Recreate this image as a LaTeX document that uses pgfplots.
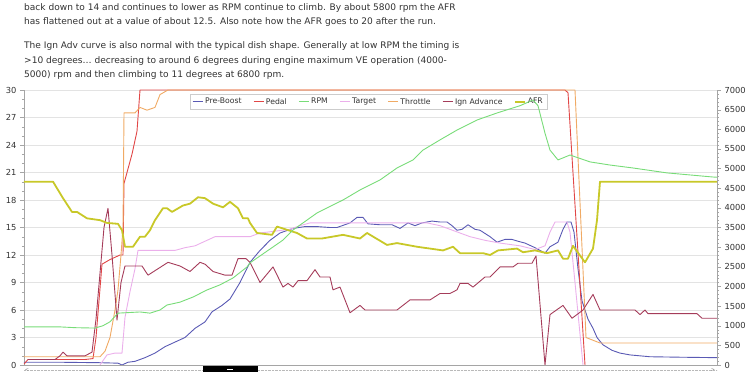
\documentclass[border=0pt]{standalone}
\usepackage{pgfplots}
\pgfplotsset{compat=1.18}
\usepackage{fontspec}
\setmainfont{DejaVu Sans}
\definecolor{cpre}{RGB}{90,90,180}
\definecolor{cpedal}{RGB}{225,70,70}
\definecolor{crpm}{RGB}{120,220,120}
\definecolor{ctarget}{RGB}{235,175,235}
\definecolor{cthr}{RGB}{240,170,100}
\definecolor{cign}{RGB}{165,60,90}
\definecolor{cafr}{RGB}{200,200,40}
\definecolor{ctext}{RGB}{50,50,50}
\definecolor{caxis}{RGB}{165,165,165}
\pgfplotsset{legend image code/.code={\draw[#1] (0pt,0pt) -- (10pt,0pt);}}
\begin{document}
\begin{tikzpicture}[x=1pt,y=1pt]
\path[use as bounding box] (0,0) rectangle (750,375);
\begin{scope}[every node/.style={anchor=west,inner sep=0pt,text=ctext,font=\fontsize{9.05}{10}\selectfont}]
\node at (24,367) {back down to 14 and continues to lower as RPM continue to climb. By about 5800 rpm the AFR};
\node at (24,353) {has flattened out at a value of about 12.5. Also note how the AFR goes to 20 after the run.};
\node at (24,329) {The Ign Adv curve is also normal with the typical dish shape. Generally at low RPM the timing is};
\node at (24,314) {>10 degrees… decreasing to around 6 degrees during engine maximum VE operation (4000-};
\node at (24,300) {5000) rpm and then climbing to 11 degrees at 6800 rpm.};
\end{scope}
% scrollbar strip
\draw[gray!55, densely dotted] (24,5) -- (717,5);
\fill[black] (203,2.5) rectangle (258,8.5);
\draw[white, line width=0.6pt] (227,5.5) -- (233,5.5);
\node[text=gray, font=\fontsize{5}{5}\selectfont] at (27,5) {<};
\node[text=gray, font=\fontsize{5}{5}\selectfont] at (713,5) {>};
\begin{axis}[
  at={(24pt,10pt)}, anchor=south west, scale only axis,
  width=693pt, height=275pt,
  xmin=24, xmax=717, ymin=0, ymax=30,
  axis x line*=bottom, axis y line*=left,
  axis line style={caxis, -},
  xtick=\empty,
  ytick={0,3,...,30}, minor y tick num=2,
  tick align=outside, major tick length=4pt, minor tick length=2pt,
  tick style={caxis},
  ymajorgrids, major grid style={gray!22},
  /pgf/number format/assume math mode=true,
  yticklabel style={font=\fontsize{8.3}{9}\selectfont, text=ctext},
  every axis plot/.append style={line width=0.9pt, line join=round, forget plot},
  legend columns=-1,
  legend style={at={(0.2395,0.9855)}, anchor=north west, draw=gray!40, fill=white,
    font=\fontsize{7.7}{8}\selectfont, inner sep=2pt,
    /tikz/every even column/.append style={column sep=9.5pt}},
]
\addlegendimage{draw=cpre, line width=0.9pt}
\addlegendentry{\textcolor{ctext}{Pre-Boost}}
\addlegendimage{draw=cpedal, line width=0.9pt}
\addlegendentry{\textcolor{ctext}{Pedal}}
\addlegendimage{draw=crpm, line width=0.9pt}
\addlegendentry{\textcolor{ctext}{RPM}}
\addlegendimage{draw=ctarget, line width=0.9pt}
\addlegendentry{\textcolor{ctext}{Target}}
\addlegendimage{draw=cthr, line width=0.9pt}
\addlegendentry{\textcolor{ctext}{Throttle}}
\addlegendimage{draw=cign, line width=0.9pt}
\addlegendentry{\textcolor{ctext}{Ign Advance}}
\addlegendimage{draw=cafr, line width=1.6pt}
\addlegendentry{\textcolor{ctext}{AFR}}
\addplot[cpre] coordinates {
(24,0.3) (60,0.3) (100,0.25) (118,0.2) (122,0.0) (128,0.3) (135,0.4) (145,0.8) (155,1.3) (165,2.0) (175,2.5) (185,3.0) (195,4.0) (205,4.7) (212,5.8) (222,6.5) (230,7.2) (240,9.0) (250,11.2) (260,12.5) (270,13.6) (280,14.4) (293,14.9) (305,15.1) (317,15.1) (330,15.0) (337,15.0) (350,15.5) (357,16.1) (363,16.1) (368,15.4) (380,15.3) (392,15.3) (400,14.9) (408,15.5) (415,15.2) (422,15.5) (432,15.7) (440,15.6) (447,15.6) (452,15.2) (457,14.7) (462,14.8) (468,15.3) (475,14.8) (480,14.7) (490,14.0) (497,13.4) (505,13.7) (512,13.7) (518,13.5) (525,13.3) (535,12.8) (545,12.2) (550,12.9) (558,13.4) (563,14.8) (567,15.6) (571,15.6) (574,14.5) (578,10.5) (582,7.0) (588,5.0) (593,4.0) (597,3.0) (603,2.2) (612,1.6) (620,1.3) (630,1.1) (650,0.9) (680,0.85) (717,0.8)
};
\addplot[cpedal] coordinates {
(24,0.1) (28,0.6) (85,0.6) (93,0.7) (96,3) (102,11.0) (110,11.5) (120,12.0) (123,12.0) (124,19.8) (132,23.0) (137,25.5) (140,30) (565,30) (568,29.7) (585,0)
};
\addplot[ctarget] coordinates {
(100,0.0) (107,1.1) (115,1.3) (122,1.3) (125,5.2) (130,8) (135,10.5) (138,12.5) (175,12.5) (185,12.8) (195,13.0) (205,13.5) (215,14.0) (250,14.0) (260,14.4) (290,14.8) (300,15.2) (310,15.5) (427,15.5) (440,15.2) (455,14.6) (470,14.0) (485,13.6) (500,13.3) (520,13.0) (535,12.6) (545,13.0) (550,14.5) (555,15.6) (567,15.6) (570,14.5) (575,9) (583,0)
};
\addplot[cthr] coordinates {
(24,0.9) (100,0.9) (105,1.5) (110,3.0) (115,6.0) (118,8.2) (121,12) (123,15) (124,27.5) (135,27.5) (140,28.1) (147,27.8) (155,28.1) (160,29.5) (168,30) (575,30) (586,3.0) (600,2.4) (717,2.4)
};
\addplot[cign] coordinates {
(28,0.6) (55,0.6) (60,1.0) (63,1.4) (67,1.0) (85,1.0) (92,1.4) (96,5) (104,15) (108,17.1) (112,12) (117,4.9) (121,9.0) (125,10.8) (142,10.8) (148,9.8) (168,11.2) (180,10.8) (190,10.2) (200,11.2) (205,11.0) (213,10.2) (225,9.8) (232,9.8) (238,11.6) (246,11.6) (250,11.2) (260,9.0) (273,10.7) (283,8.5) (288,8.9) (293,8.5) (298,9.2) (307,9.2) (315,10.4) (320,9.6) (330,9.6) (333,8.2) (340,8.5) (350,5.7) (360,6.5) (365,6.0) (397,6.0) (410,7.1) (430,7.1) (440,7.8) (450,7.8) (457,8.2) (460,8.9) (468,8.9) (473,8.5) (485,9.6) (490,9.6) (500,10.7) (513,10.7) (518,11.1) (532,11.1) (536,11.9) (545,0) (550,5.5) (563,6.5) (572,5.1) (583,6.0) (593,7.7) (600,6.0) (635,6.0) (640,5.5) (645,6.0) (648,5.6) (697,5.6) (702,5.1) (717,5.1)
};
\addplot[cafr, line width=1.8pt] coordinates {
(24,20.0) (53,20.0) (63,18.2) (72,16.7) (77,16.7) (87,16.0) (100,15.8) (107,15.5) (118,15.4) (122,14.7) (125,12.9) (133,12.9) (140,14.0) (145,14.0) (150,14.7) (155,15.8) (163,17.1) (167,17.1) (172,16.7) (183,17.4) (190,17.6) (198,18.3) (205,18.2) (213,17.6) (223,17.2) (230,17.8) (238,17.1) (243,16.0) (248,16.0) (250,15.5) (257,14.4) (272,14.2) (277,15.1) (297,14.4) (307,13.8) (322,13.8) (343,14.2) (360,13.8) (367,14.4) (387,13.1) (397,13.3) (417,12.9) (443,12.5) (453,12.9) (460,12.2) (483,12.2) (490,12.0) (498,12.5) (517,12.7) (523,12.3) (535,12.5) (547,12.2) (558,12.5) (563,11.6) (568,11.6) (573,13.0) (585,11.2) (593,12.7) (597,15.8) (600,20.0) (717,20.0)
};
\end{axis}
\begin{axis}[
  at={(24pt,10pt)}, anchor=south west, scale only axis,
  width=693pt, height=275pt,
  xmin=24, xmax=717, ymin=0, ymax=7000,
  axis x line=none, axis y line*=right,
  axis line style={caxis, -},
  ytick={0,500,...,7000}, minor y tick num=4,
  tick align=outside, major tick length=4pt, minor tick length=2pt,
  tick style={caxis},
  /pgf/number format/assume math mode=true,
  /pgf/number format/1000 sep={},
  yticklabel style={font=\fontsize{8.3}{9}\selectfont, text=ctext},
]
\addplot[crpm, line width=0.9pt, line join=round] coordinates {
(24,970) (60,970) (75,950) (95,940) (103,1000) (110,1100) (118,1320) (140,1350) (150,1320) (160,1400) (167,1527) (180,1600) (193,1730) (207,1910) (220,2040) (233,2215) (247,2495) (250,2600) (283,3180) (293,3436) (317,3870) (343,4200) (360,4455) (380,4710) (397,5015) (413,5220) (423,5470) (440,5730) (457,5980) (477,6236) (497,6415) (520,6600) (533,6745) (538,6600) (545,5900) (550,5470) (558,5220) (570,5345) (590,5170) (610,5090) (633,5015) (667,4890) (713,4785) (717,4780)
};
\end{axis}
\end{tikzpicture}
\end{document}
